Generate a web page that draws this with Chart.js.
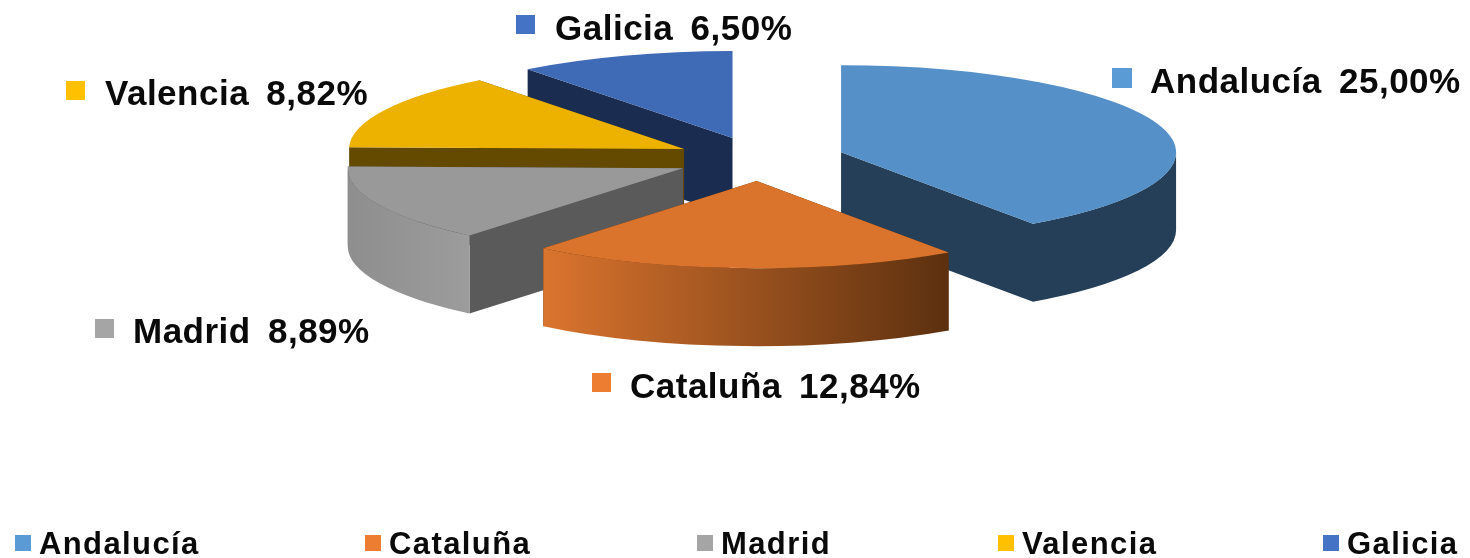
<!DOCTYPE html>
<html lang="es">
<head>
<meta charset="utf-8">
<title>Pie 3D</title>
<script src="https://cdn.jsdelivr.net/npm/chart.js@4"></script>
<style>
html,body{margin:0;padding:0;background:#fff;overflow:hidden}
canvas{display:block;filter:blur(0.7px)}
</style>
</head>
<body>
<canvas id="c" width="1470" height="558"></canvas>
<script>
const categories = ['Andalucía', 'Cataluña', 'Madrid', 'Valencia', 'Galicia'];
const shares = [25.00, 12.84, 8.89, 8.82, 6.50];

const topColors = ['#5590C8', '#DA742C', '#999999', '#EDB200', '#3F6AB5'];
const keyColors = ['#5B9BD5', '#ED7D31', '#A5A5A5', '#FFC000', '#4472C4'];
const radialColors = ['#243F57', '#5C300F', '#5A5A5A', '#644A00', '#1A2D50'];
const rimStops = [['#243F57', '#243F57'], ['#DA742E', '#5C300F'], ['#8E8E8E', '#9C9C9C'], ['#644A00', '#644A00'], ['#1A2D50', '#1A2D50']];
const paintOrder = [4, 3, 2, 0, 1];

const VIEW = {x: 760, y: 159, squash: 0.26, depth: 78, explode: 85, radius: 335};

const labelLayout = [
  {key: [1112, 68, 20], textX: 1150, base: 93},
  {key: [592, 373, 19], textX: 630, base: 398},
  {key: [95, 319, 19], textX: 133, base: 343},
  {key: [66, 81, 19], textX: 105, base: 105},
  {key: [516, 15, 19], textX: 555, base: 40}
];
const legendKeyX = [15, 365, 697, 998, 1323];

const fmt = v => v.toFixed(2).replace('.', ',') + '%';

const pie3d = {
  id: 'pie3d',
  beforeDatasetDraw(chart, args) {
    const ctx = chart.ctx;
    const arcs = args.meta.data;
    const k = VIEW.squash, d = VIEW.depth;
    paintOrder.forEach(i => {
      const arc = arcs[i];
      const half = (arc.startAngle + arc.endAngle) / 2;
      const cx = VIEW.x + Math.cos(half) * VIEW.explode;
      const cy = VIEW.y + Math.sin(half) * VIEW.explode * k;
      const r = arc.outerRadius;
      const pt = a => [cx + Math.cos(a) * r, cy + Math.sin(a) * r * k];
      ctx.save();
      // radial side walls
      ctx.fillStyle = radialColors[i];
      [arc.startAngle, arc.endAngle].forEach(a => {
        const p = pt(a);
        ctx.beginPath();
        ctx.moveTo(cx, cy);
        ctx.lineTo(p[0], p[1]);
        ctx.lineTo(p[0], p[1] + d);
        ctx.lineTo(cx, cy + d);
        ctx.closePath();
        ctx.fill();
      });
      // rim wall: only the part facing the viewer
      const a0 = Math.max(arc.startAngle, 0);
      const a1 = Math.min(arc.endAngle, Math.PI);
      if (a1 > a0) {
        const xa = pt(a0)[0], xb = pt(a1)[0];
        const g = ctx.createLinearGradient(Math.min(xa, xb), 0, Math.max(xa, xb), 0);
        g.addColorStop(0, rimStops[i][0]);
        g.addColorStop(1, rimStops[i][1]);
        ctx.fillStyle = g;
        ctx.beginPath();
        ctx.ellipse(cx, cy, r, r * k, 0, a0, a1, false);
        ctx.ellipse(cx, cy + d, r, r * k, 0, a1, a0, true);
        ctx.closePath();
        ctx.fill();
      }
      // top face: the library's own arc element, squashed
      ctx.translate(cx, cy);
      ctx.scale(1, k);
      ctx.translate(-arc.x, -arc.y);
      arc.draw(ctx);
      ctx.restore();
    });
    return false;
  },
  afterDraw(chart) {
    const ctx = chart.ctx;
    ctx.save();
    ctx.textBaseline = 'alphabetic';
    ctx.textAlign = 'left';
    // data labels
    ctx.font = 'bold 35px "Liberation Sans", Arial, sans-serif';
    ctx.wordSpacing = '7px';
    ctx.letterSpacing = '0.5px';
    categories.forEach((name, i) => {
      const l = labelLayout[i];
      ctx.fillStyle = keyColors[i];
      ctx.fillRect(l.key[0], l.key[1], l.key[2], l.key[2]);
      ctx.fillStyle = '#0A0A0A';
      ctx.fillText(name + ' ' + fmt(shares[i]), l.textX, l.base);
    });
    // legend
    ctx.wordSpacing = '0px';
    ctx.font = 'bold 31px "Liberation Sans", Arial, sans-serif';
    ctx.letterSpacing = '1.4px';
    categories.forEach((name, i) => {
      ctx.fillStyle = keyColors[i];
      ctx.fillRect(legendKeyX[i], 535, 16, 16);
      ctx.fillStyle = '#0A0A0A';
      ctx.fillText(name, legendKeyX[i] + 24, 554);
    });
    ctx.restore();
  }
};

new Chart(document.getElementById('c'), {
  type: 'pie',
  data: {
    labels: categories,
    datasets: [{data: shares, backgroundColor: topColors, borderWidth: 0}]
  },
  options: {
    responsive: false,
    animation: false,
    radius: VIEW.radius,
    plugins: {legend: {display: false}, tooltip: {enabled: false}}
  },
  plugins: [pie3d]
});
</script>
</body>
</html>
